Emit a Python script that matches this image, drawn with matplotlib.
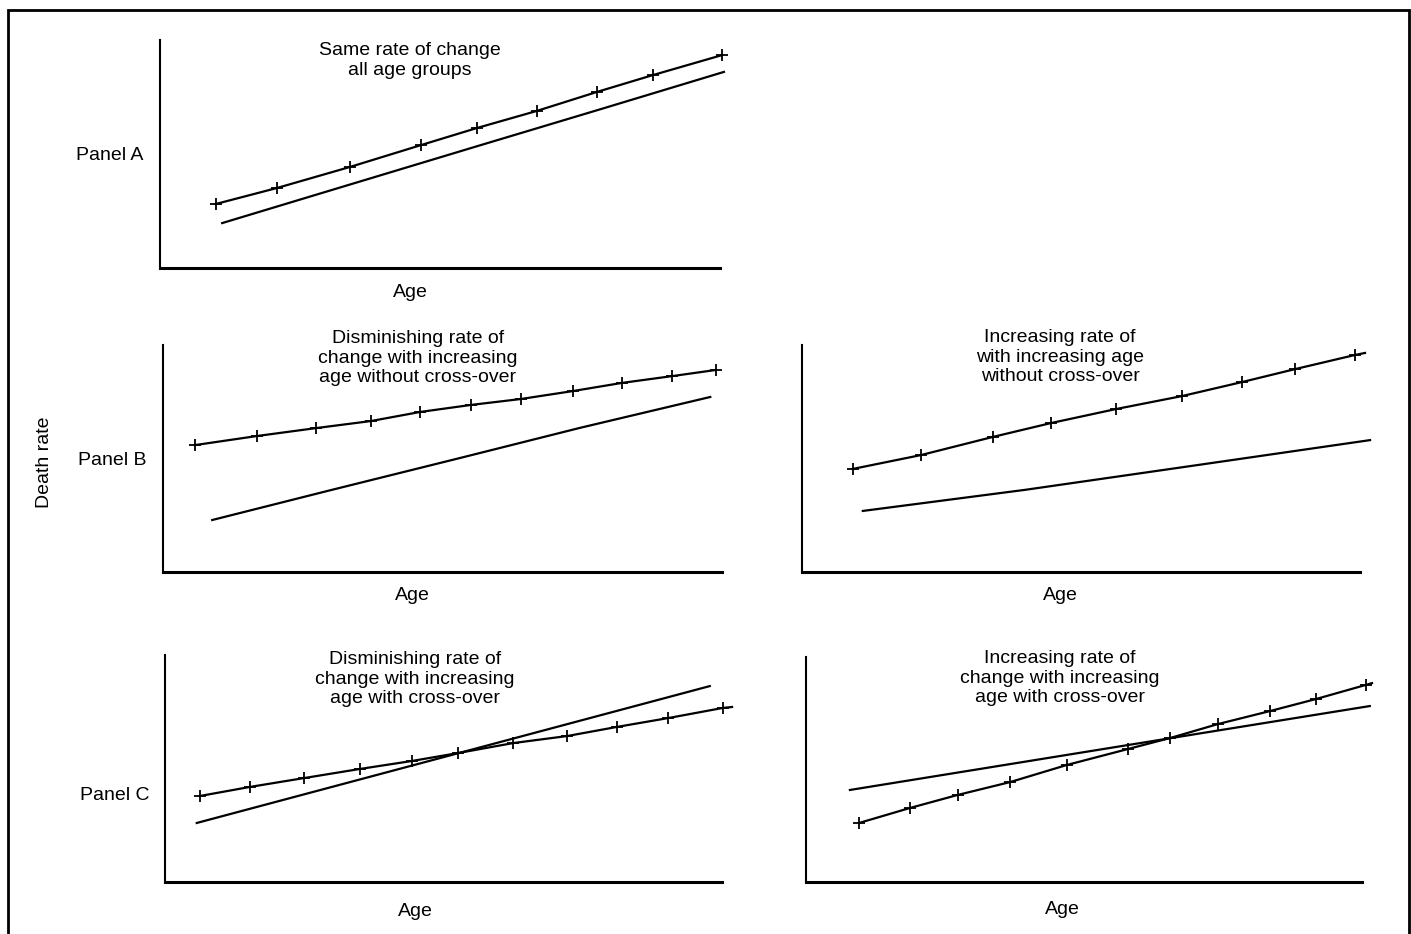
""" Death rate vs age: schematic panels A, B, C """
import numpy as np
from matplotlib import pyplot as plt
from matplotlib.patches import Rectangle

plt.rcParams['font.family'] = ['Liberation Sans', 'DejaVu Sans']

W, H = 1411, 934

# Panel A -- same rate of change
a_mark_x = [10.0, 20.9, 33.9, 46.6, 56.6, 67.3, 78.0, 88.0, 100.4]
a_mark_y = [28.1, 35.1, 44.3, 53.9, 61.4, 68.9, 77.2, 84.6, 93.4]
a_line_x = [11.1, 33.9, 56.6, 78.6, 100.7]
a_line_y = [19.7, 36.6, 53.4, 69.6, 86.0]

# Panel B left -- diminishing, no cross-over
bl_mark_x = [5.7, 16.8, 27.4, 37.2, 46.0, 55.1, 64.0, 73.3, 82.1, 91.1, 98.9]
bl_mark_y = [55.9, 59.9, 63.4, 66.5, 70.5, 73.6, 76.2, 79.7, 83.3, 86.3, 89.0]
bl_line_x = [8.8, 29.9, 53.1, 74.6, 97.9]
bl_line_y = [22.9, 36.0, 50.2, 63.5, 77.1]

# Panel B right -- increasing, no cross-over (last point: line end, no marker)
br_mark_x = [9.1, 21.3, 34.2, 44.6, 56.3, 68.1, 78.9, 88.4, 99.1, 100.9]
br_mark_y = [45.4, 51.5, 59.5, 65.6, 71.8, 77.5, 83.7, 89.4, 95.6, 96.5]
br_line_x = [10.9, 40.0, 70.0, 101.8]
br_line_y = [26.9, 36.2, 46.8, 58.1]

# Panel C left -- diminishing, with cross-over (last point: line end, no marker)
cl_mark_x = [6.3, 15.3, 25.0, 35.0, 44.3, 52.6, 62.5, 72.2, 81.1, 90.3, 100.2, 101.8]
cl_mark_y = [37.9, 41.9, 45.8, 49.8, 53.3, 56.8, 61.2, 64.3, 68.3, 72.2, 76.7, 77.1]
cl_line_x = [5.7, 52.6, 97.8]
cl_line_y = [26.0, 56.7, 86.3]

# Panel C right -- increasing, with cross-over (last point: line end, no marker)
cr_mark_x = [9.5, 18.7, 27.3, 36.7, 46.9, 57.9, 65.5, 74.1, 83.5, 91.7, 100.7, 101.8]
cr_mark_y = [26.2, 32.9, 38.7, 44.4, 52.0, 59.1, 64.0, 70.2, 76.0, 81.3, 87.6, 88.4]
cr_line_x = [7.9, 65.5, 101.4]
cr_line_y = [40.9, 63.9, 78.2]


def fx(px):
    return px / W


def fy(py):
    return 1 - py / H


def add_panel(fig, x0, y0, x1, y1):
    # pixel box -> axes
    ax = fig.add_axes([fx(x0), fy(y1), (x1 - x0) / W, (y1 - y0) / H])
    ax.set_xlim(0, 100)
    ax.set_ylim(0, 100)
    for s in ['top', 'right']:
        ax.spines[s].set_visible(False)
    ax.spines['left'].set_linewidth(1.5)
    ax.spines['bottom'].set_linewidth(2.2)
    ax.set_xticks([])
    ax.set_yticks([])
    ax.patch.set_alpha(0)
    return ax


def draw(ax, mx, my, lx, ly, n_mark=None):
    n = len(mx) if n_mark is None else n_mark
    ax.plot(mx, my, color='k', lw=1.6, marker='+', ms=9, mew=1.3,
            markevery=list(range(n)), clip_on=False)
    ax.plot(lx, ly, color='k', lw=1.6, clip_on=False)


fig = plt.figure(figsize=(W / 100, H / 100), dpi=100)

# Outer frame
fig.patches.append(Rectangle((fx(8), fy(960)), fx(1409) - fx(8), fy(10) - fy(960),
                             transform=fig.transFigure, fill=False, lw=2,
                             ec='k', clip_on=False))

fs = 14
ls = 1.2

axA = add_panel(fig, 160, 40, 720, 268)
draw(axA, a_mark_x, a_mark_y, a_line_x, a_line_y)
fig.text(fx(410), fy(42), 'Same rate of change\nall age groups',
         ha='center', va='top', fontsize=fs, linespacing=ls)
fig.text(fx(410), fy(293), 'Age', ha='center', va='center', fontsize=fs)
fig.text(fx(110), fy(155), 'Panel A', ha='center', va='center', fontsize=fs)

axBL = add_panel(fig, 163, 345, 722, 572)
draw(axBL, bl_mark_x, bl_mark_y, bl_line_x, bl_line_y)
fig.text(fx(418), fy(330), 'Disminishing rate of\nchange with increasing\nage without cross-over',
         ha='center', va='top', fontsize=fs, linespacing=ls)
fig.text(fx(412), fy(596), 'Age', ha='center', va='center', fontsize=fs)
fig.text(fx(112), fy(461), 'Panel B', ha='center', va='center', fontsize=fs)

axBR = add_panel(fig, 802, 345, 1360, 572)
draw(axBR, br_mark_x, br_mark_y, br_line_x, br_line_y, n_mark=len(br_mark_x) - 1)
fig.text(fx(1060), fy(329), 'Increasing rate of\nwith increasing age\nwithout cross-over',
         ha='center', va='top', fontsize=fs, linespacing=ls)
fig.text(fx(1060), fy(595), 'Age', ha='center', va='center', fontsize=fs)

axCL = add_panel(fig, 165, 655, 722, 882)
draw(axCL, cl_mark_x, cl_mark_y, cl_line_x, cl_line_y, n_mark=len(cl_mark_x) - 1)
fig.text(fx(415), fy(651), 'Disminishing rate of\nchange with increasing\nage with cross-over',
         ha='center', va='top', fontsize=fs, linespacing=ls)
fig.text(fx(415), fy(911), 'Age', ha='center', va='center', fontsize=fs)
fig.text(fx(115), fy(795), 'Panel C', ha='center', va='center', fontsize=fs)

axCR = add_panel(fig, 806, 657, 1362, 882)
draw(axCR, cr_mark_x, cr_mark_y, cr_line_x, cr_line_y, n_mark=len(cr_mark_x) - 1)
fig.text(fx(1060), fy(650), 'Increasing rate of\nchange with increasing\nage with cross-over',
         ha='center', va='top', fontsize=fs, linespacing=ls)
fig.text(fx(1062), fy(910), 'Age', ha='center', va='center', fontsize=fs)

fig.text(fx(45), fy(462), 'Death rate', ha='center', va='center',
         rotation=90, fontsize=fs)

plt.savefig('out.png', dpi=100)
